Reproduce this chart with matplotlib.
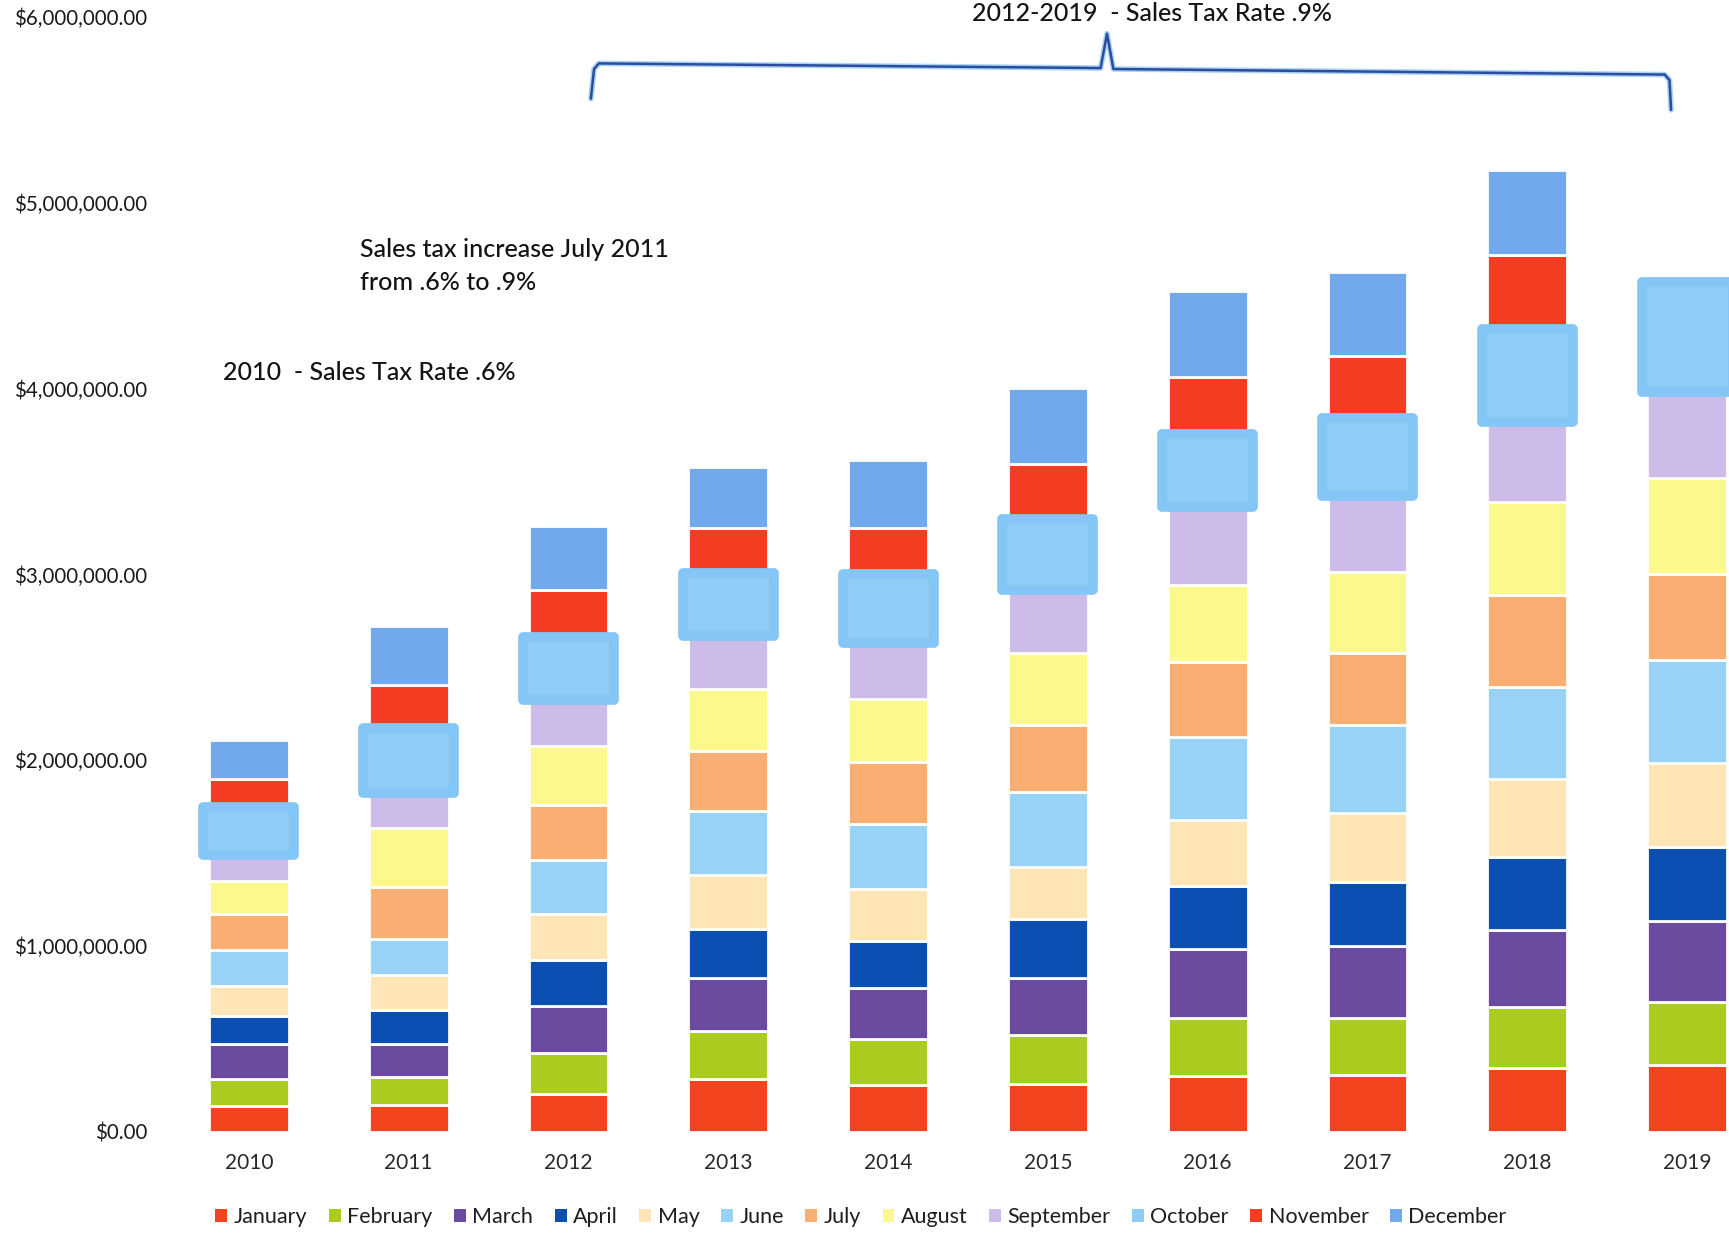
import matplotlib
matplotlib.use("Agg")
import matplotlib.pyplot as plt
from matplotlib.patches import Patch
from matplotlib.ticker import FuncFormatter

plt.rcParams['font.family'] = ['Lato', 'DejaVu Sans']

years = ['2010', '2011', '2012', '2013', '2014', '2015', '2016', '2017', '2018', '2019']
months = ['January', 'February', 'March', 'April', 'May', 'June', 'July',
          'August', 'September', 'October', 'November', 'December']

# monthly sales tax receipts, millions of dollars
january = [0.140, 0.145, 0.205, 0.285, 0.253, 0.258, 0.301, 0.307, 0.344, 0.361]
february = [0.143, 0.151, 0.221, 0.258, 0.248, 0.264, 0.312, 0.307, 0.328, 0.339]
march = [0.191, 0.178, 0.253, 0.285, 0.274, 0.307, 0.371, 0.388, 0.414, 0.436]
april = [0.151, 0.183, 0.248, 0.264, 0.253, 0.318, 0.339, 0.344, 0.393, 0.398]
may = [0.161, 0.188, 0.248, 0.291, 0.280, 0.280, 0.355, 0.371, 0.420, 0.452]
june = [0.191, 0.194, 0.291, 0.344, 0.350, 0.404, 0.447, 0.474, 0.495, 0.554]
july = [0.194, 0.280, 0.291, 0.323, 0.334, 0.361, 0.404, 0.388, 0.495, 0.463]
august = [0.180, 0.318, 0.318, 0.334, 0.339, 0.388, 0.414, 0.436, 0.501, 0.517]
september = [0.137, 0.188, 0.248, 0.285, 0.301, 0.339, 0.420, 0.409, 0.431, 0.463]
october = [0.261, 0.350, 0.339, 0.339, 0.371, 0.382, 0.393, 0.420, 0.501, 0.592]
november = [0.151, 0.231, 0.253, 0.242, 0.248, 0.296, 0.307, 0.334, 0.398, 0.0]
december = [0.210, 0.318, 0.344, 0.328, 0.366, 0.404, 0.463, 0.447, 0.457, 0.0]

series = [january, february, march, april, may, june, july,
          august, september, october, november, december]
colors = ['#f4431f', '#a9cc1e', '#6b4b9f', '#0b4fb2', '#fde5b6', '#98d2f6',
          '#f9af74', '#fbf88c', '#cdbbea', '#8fcdf7', '#f43d22', '#72a8ec']

fig = plt.figure(figsize=(17.29, 12.37), dpi=100)
ax = fig.add_axes([165 / 1729, 0.0849, 1 - 165 / 1729, 0.9089])

x = list(range(len(years)))
bottom = [0.0] * len(years)
for name, vals, c in zip(months, series, colors):
    vals_d = [v * 1e6 for v in vals]
    bot_d = [b * 1e6 for b in bottom]
    if name == 'October':
        # the October block is drawn as a wider, rounded "band"
        ax.bar(x, vals_d, bottom=bot_d, width=0.57, color=c,
               edgecolor='#84c6f5', linewidth=7, joinstyle='round', zorder=3)
    else:
        ax.bar(x, vals_d, bottom=bot_d, width=0.5, color=c,
               edgecolor='white', linewidth=2, zorder=2)
    bottom = [b + v for b, v in zip(bottom, vals)]

ax.set_xlim(-0.525, 9.2625)
ax.set_ylim(0, 6.05e6)
ax.set_yticks([i * 1e6 for i in range(7)])
ax.yaxis.set_major_formatter(FuncFormatter(lambda v, p: '${:,.2f}'.format(v)))
ax.set_xticks(x)
ax.set_xticklabels(years)
ax.tick_params(axis='y', length=0, pad=13, labelsize=14.8, labelcolor='#1a1a1a')
ax.tick_params(axis='x', length=0, pad=15, labelsize=15, labelcolor='#2a2a2a')
for s in ax.spines.values():
    s.set_visible(False)

# annotations
txt = dict(fontsize=18, fontweight='medium', ha='left', va='center', color='#141414')
ax.text(4.525, 6.017e6, '2012-2019  - Sales Tax Rate .9%', clip_on=False, **txt)
ax.text(0.694, 4.747e6, 'Sales tax increase July 2011', **txt)
ax.text(0.694, 4.57e6, 'from .6% to .9%', **txt)
ax.text(-0.1625, 4.085e6, '2010  - Sales Tax Rate .6%', **txt)

# bracket over 2012-2019
bx = [2.14, 2.16, 2.19, 5.33, 5.37, 5.41, 8.86, 8.89, 8.90]
by = [5.56, 5.72, 5.75, 5.725, 5.91, 5.72, 5.69, 5.66, 5.50]
ax.plot(bx, [v * 1e6 for v in by], color='#a9d4f5', lw=4, zorder=1,
        solid_capstyle='round')
ax.plot(bx, [v * 1e6 for v in by], color='#2c4c9e', lw=1.8, zorder=2,
        solid_capstyle='round')

handles = [Patch(facecolor=c, edgecolor='none') for c in colors]
fig.legend(handles, months, loc='center', bbox_to_anchor=(0.498, 0.016),
           ncol=12, frameon=False, fontsize=15.5, handlelength=0.55,
           handleheight=0.55, handletextpad=0.3, columnspacing=1.0,
           labelcolor='#1e1e1e')

fig.savefig('out.png', dpi=100)
